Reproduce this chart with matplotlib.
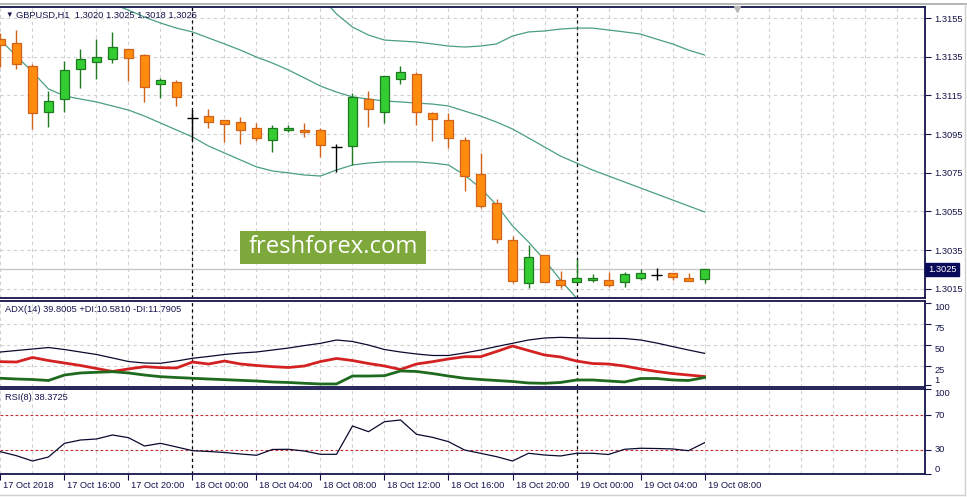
import matplotlib
matplotlib.use("Agg")
import matplotlib.pyplot as plt
import matplotlib.transforms as mtransforms
from matplotlib.lines import Line2D
from matplotlib.patches import Rectangle

# GBPUSD H1, 17 Oct 12:00 .. 19 Oct 08:00 (one bar per hour)
opens = [1.31440, 1.31419, 1.31302, 1.31066, 1.31130, 1.31288, 1.31324, 1.31336, 1.31388, 1.31359,
         1.31207, 1.31219, 1.31031, 1.31043, 1.31021, 1.31011, 1.30980, 1.30919, 1.30971, 1.30972,
         1.30971, 1.30883, 1.30890, 1.31130, 1.31066, 1.31236, 1.31260, 1.31057, 1.31023, 1.30919,
         1.30743, 1.30592, 1.30402, 1.30181, 1.30323, 1.30195, 1.30184, 1.30194, 1.30195, 1.30184,
         1.30207, 1.30221, 1.30233, 1.30207, 1.30200]
highs = [1.31472, 1.31488, 1.31312, 1.31173, 1.31328, 1.31390, 1.31441, 1.31478, 1.31390, 1.31362,
         1.31238, 1.31229, 1.31074, 1.31079, 1.31021, 1.31040, 1.31009, 1.30997, 1.30997, 1.31009,
         1.30980, 1.30898, 1.31164, 1.31174, 1.31249, 1.31302, 1.31272, 1.31066, 1.31057, 1.30936,
         1.30854, 1.30614, 1.30423, 1.30376, 1.30323, 1.30244, 1.30304, 1.30226, 1.30237, 1.30237,
         1.30254, 1.30256, 1.30233, 1.30233, 1.30250]
lows = [1.31297, 1.31286, 1.30976, 1.30986, 1.31066, 1.31190, 1.31235, 1.31319, 1.31224, 1.31117,
        1.31138, 1.31095, 1.30919, 1.30980, 1.30910, 1.30898, 1.30916, 1.30857, 1.30959, 1.30936,
        1.30831, 1.30754, 1.30790, 1.30988, 1.31009, 1.31207, 1.30997, 1.30916, 1.30879, 1.30657,
        1.30569, 1.30388, 1.30181, 1.30153, 1.30184, 1.30153, 1.30184, 1.30184, 1.30161, 1.30161,
        1.30194, 1.30194, 1.30194, 1.30192, 1.30180]
closes = [1.31410, 1.31311, 1.31059, 1.31121, 1.31281, 1.31336, 1.31347, 1.31399, 1.31345, 1.31195,
          1.31229, 1.31140, 1.31031, 1.31012, 1.31000, 1.30971, 1.30930, 1.30980, 1.30983, 1.30959,
          1.30892, 1.30883, 1.31143, 1.31078, 1.31249, 1.31269, 1.31066, 1.31029, 1.30928, 1.30733,
          1.30580, 1.30409, 1.30192, 1.30313, 1.30184, 1.30171, 1.30204, 1.30204, 1.30171, 1.30226,
          1.30233, 1.30221, 1.30213, 1.30192, 1.30250]

# Bollinger bands
bb_upper = [1.32315, 1.32325, 1.32336, 1.32351, 1.32325, 1.32258, 1.32201, 1.32150, 1.32108, 1.32067,
            1.32041, 1.32026, 1.32020, 1.32005, 1.31979, 1.31953, 1.31917, 1.31876, 1.31814, 1.31741,
            1.31664, 1.31571, 1.31503, 1.31462, 1.31436, 1.31431, 1.31426, 1.31416, 1.31405, 1.31400,
            1.31405, 1.31416, 1.31457, 1.31478, 1.31483, 1.31493, 1.31498, 1.31498, 1.31488, 1.31478,
            1.31467, 1.31441, 1.31416, 1.31384, 1.31359]
bb_mid = [1.31876, 1.31839, 1.31803, 1.31767, 1.31736, 1.31695, 1.31659, 1.31622, 1.31591, 1.31555,
          1.31524, 1.31498, 1.31478, 1.31447, 1.31416, 1.31384, 1.31348, 1.31317, 1.31281, 1.31240,
          1.31198, 1.31167, 1.31142, 1.31131, 1.31121, 1.31116, 1.31110, 1.31105, 1.31095, 1.31069,
          1.31043, 1.31012, 1.30976, 1.30930, 1.30883, 1.30836, 1.30800, 1.30764, 1.30733, 1.30702,
          1.30671, 1.30640, 1.30609, 1.30578, 1.30547]
bb_lower = [1.31436, 1.31353, 1.31271, 1.31183, 1.31147, 1.31131, 1.31116, 1.31095, 1.31074, 1.31043,
            1.31007, 1.30971, 1.30935, 1.30888, 1.30852, 1.30816, 1.30780, 1.30759, 1.30749, 1.30738,
            1.30733, 1.30764, 1.30790, 1.30800, 1.30806, 1.30806, 1.30806, 1.30800, 1.30790, 1.30738,
            1.30671, 1.30583, 1.30475, 1.30392, 1.30299, 1.30195, 1.30102, 1.30030, 1.29978, 1.29927,
            1.29875, 1.29839, 1.29803, 1.29771, 1.29735]

# ADX(14)
adx = [41.4, 43.2, 45.0, 46.8, 44.4, 41.4, 38.4, 34.2, 29.9, 28.1,
       27.8, 30.5, 33.8, 36.0, 38.4, 40.2, 41.4, 43.8, 46.2, 49.2,
       51.9, 55.9, 54.1, 49.8, 44.4, 41.4, 39.0, 37.2, 37.2, 40.2,
       43.8, 48.0, 51.9, 55.9, 58.3, 59.1, 58.5, 57.9, 57.9, 57.7,
       55.9, 52.3, 48.0, 43.8, 39.8]
plus_di = [9.7, 8.8, 8.2, 7.0, 13.6, 16.1, 16.9, 17.6, 16.1, 13.6,
           11.6, 10.6, 9.7, 8.8, 8.0, 7.2, 6.4, 5.2, 4.6, 3.6,
           2.8, 2.8, 12.4, 12.4, 12.8, 18.5, 17.9, 15.4, 12.4, 9.7,
           8.2, 7.0, 5.8, 4.0, 3.6, 4.6, 7.6, 7.6, 6.4, 5.2,
           9.4, 9.4, 7.6, 7.0, 10.6]
minus_di = [29.7, 29.3, 34.8, 31.1, 28.1, 25.1, 21.5, 17.9, 20.9, 23.7,
            22.5, 22.1, 29.3, 26.9, 30.5, 26.9, 25.1, 23.7, 22.7, 24.5,
            29.9, 33.6, 31.1, 27.5, 24.5, 20.3, 26.9, 29.7, 33.0, 35.7,
            35.7, 42.0, 48.6, 43.2, 37.8, 35.4, 30.5, 27.5, 26.9, 24.5,
            20.9, 17.9, 15.4, 13.6, 11.8]

# RSI(8)
rsi = [28.0, 23.4, 17.3, 21.9, 37.7, 41.5, 42.7, 47.3, 44.2, 34.6,
       37.7, 33.5, 29.2, 28.3, 27.1, 25.4, 23.9, 30.6, 30.8, 28.8,
       25.0, 25.0, 57.7, 51.1, 62.6, 64.6, 48.1, 44.6, 39.6, 30.0,
       26.2, 22.3, 17.3, 26.2, 24.2, 23.1, 26.2, 26.2, 24.8, 30.8,
       32.0, 31.7, 31.2, 29.2, 38.4]

price_ticks = [1.3155, 1.3135, 1.3115, 1.3095, 1.3075, 1.3055, 1.3035, 1.3015]
time_labels = ["17 Oct 2018", "17 Oct 16:00", "17 Oct 20:00", "18 Oct 00:00", "18 Oct 04:00",
               "18 Oct 08:00", "18 Oct 12:00", "18 Oct 16:00", "18 Oct 20:00", "19 Oct 00:00",
               "19 Oct 04:00", "19 Oct 08:00"]
day_breaks = [12, 36]

W, H = 967, 497
NAVY = "#14144c"
GRID = "#d0d0d0"
FS = 6.7
plt.rcParams["font.family"] = ["Liberation Sans", "DejaVu Sans"]


def fbox(x0, y0, x1, y1):
    return [x0 / W, 1 - y1 / H, (x1 - x0) / W, (y1 - y0) / H]


fig = plt.figure(figsize=(W / 100, H / 100), dpi=100)
ax1 = fig.add_axes(fbox(0, 7, 925, 298))
ax2 = fig.add_axes(fbox(0, 301, 925, 386.7))
ax3 = fig.add_axes(fbox(0, 389.3, 925, 474))

n = len(opens)
xs = list(range(n))
xlim = (-0.03, 57.78)

for ax in (ax1, ax2, ax3):
    ax.set_xlim(*xlim)
    ax.spines["left"].set_visible(False)
    for s in ("top", "right", "bottom"):
        ax.spines[s].set_color(NAVY)
        ax.spines[s].set_linewidth(1.3)
    ax.yaxis.tick_right()
    ax.tick_params(axis="y", direction="out", length=4, width=0.8, colors=NAVY,
                   labelsize=FS, pad=3, labelcolor=NAVY)
    # vertical grid every two bars
    for gx in range(0, 58, 2):
        ax.axvline(gx, color=GRID, lw=0.8, ls=(0, (3, 3)), zorder=0)
    for d in day_breaks:
        ax.axvline(d, color="black", lw=0.9, ls=(0, (2.5, 2.5)), zorder=1)

ax1.set_xticks([])
ax2.set_xticks([])

# ---- price panel
ax1.set_ylim(1.30102, 1.31607)
for p in price_ticks:
    ax1.axhline(p, color=GRID, lw=0.8, ls=(0, (3, 3)), zorder=0)
ax1.axhline(closes[-1], color="#c8c8c8", lw=1.0, zorder=0)
ax1.set_yticks(price_ticks)
ax1.set_yticklabels([f"{p:.4f}" for p in price_ticks])

for ln in (bb_upper, bb_mid, bb_lower):
    ax1.plot(xs, ln, color="#4a9f82", lw=0.9, zorder=2)

bw = 0.62
for i in xs:
    o, h, l, c = opens[i], highs[i], lows[i], closes[i]
    if c > o:
        fill, edge = "#33cc33", "#1f7a1f"
    elif c < o:
        fill, edge = "#ff8c0f", "#d0621a"
    else:
        fill, edge = "black", "black"
    ax1.vlines(i, l, h, color=edge, lw=1.0, zorder=3)
    if c == o:
        ax1.hlines(c, i - bw / 2 - 0.02, i + bw / 2 + 0.02, color="black", lw=1.0, zorder=4)
    else:
        ax1.bar(i, abs(c - o), bottom=min(o, c), width=bw, color=fill,
                edgecolor=edge, linewidth=0.9, zorder=4)

# current price box
ax1.text(1.003, closes[-1], f"{closes[-1]:.4f}", transform=ax1.get_yaxis_transform(),
         ha="left", va="center", fontsize=FS, color="white",
         bbox=dict(boxstyle="square,pad=0.25", fc="#0a0a5a", ec="#0a0a5a"))

# ---- ADX panel
ax2.set_ylim(-0.5, 103)
for g in (25, 50, 75):
    ax2.axhline(g, color=GRID, lw=0.8, ls=(0, (3, 3)), zorder=0)
ax2.plot(xs, adx, color="#0a0a30", lw=0.9, zorder=3)
ax2.plot(xs, minus_di, color="#d42222", lw=2.0, zorder=3)
ax2.plot(xs, plus_di, color="#1e6a1e", lw=2.0, zorder=3)
ax2.set_yticks([100, 75, 50, 25, 1])
ax2.set_yticklabels(["100", "75", "50", "25", "1"])
for lab, va in zip(ax2.get_yticklabels(), ["top", "top", "top", "top", "bottom"]):
    lab.set_verticalalignment(va)

# ---- RSI panel
ax3.set_ylim(2.3, 100)
ax3.axhline(70, color="#c03030", lw=0.8, ls=(0, (2.5, 2)), zorder=1)
ax3.axhline(30, color="#c03030", lw=0.8, ls=(0, (2.5, 2)), zorder=1)
ax3.plot(xs, rsi, color="#0a0a30", lw=0.9, zorder=3)
ax3.set_yticks([100, 70, 30, 2.3])
ax3.set_yticklabels(["100", "70", "30", "0"])
for lab, va in zip(ax3.get_yticklabels(), ["top", "center", "center", "bottom"]):
    lab.set_verticalalignment(va)

ax3.set_xticks(list(range(0, n, 4)))
ax3.set_xticklabels(time_labels)
ax3.tick_params(axis="x", direction="out", length=4, width=0.8, colors=NAVY,
                labelsize=FS, pad=1, labelcolor=NAVY)
shift = mtransforms.ScaledTranslation(3 / 100, 0, fig.dpi_scale_trans)
for lab in ax3.get_xticklabels():
    lab.set_horizontalalignment("left")
    lab.set_transform(lab.get_transform() + shift)

# ---- header texts
fig.text(5 / W, 1 - 15 / H, "▼", fontsize=5.5, color=NAVY, va="center", ha="left")
fig.text(16 / W, 1 - 15 / H, "GBPUSD,H1  1.3020 1.3025 1.3018 1.3025", fontsize=FS,
         color=NAVY, va="center", ha="left")
fig.text(5 / W, 1 - 310 / H, "ADX(14) 39.8005 +DI:10.5810 -DI:11.7905", fontsize=FS,
         color=NAVY, va="center", ha="left")
fig.text(5 / W, 1 - 398 / H, "RSI(8) 38.3725", fontsize=FS,
         color=NAVY, va="center", ha="left")

# watermark
fig.add_artist(Rectangle((240 / W, 1 - 264 / H), 186 / W, 33 / H, transform=fig.transFigure,
                         fc="#7ea83b", ec="none", zorder=5))
fig.text(333 / W, 1 - 247 / H, "freshforex.com", fontsize=17.2, color="white",
         family="Open Sans", ha="center", va="center", zorder=6)

# window edges
fig.add_artist(Line2D([0, 1], [1 - 3.5 / H] * 2, color="#a8a8a8", lw=1.2, transform=fig.transFigure))
fig.add_artist(Line2D([965 / W] * 2, [1 - 495 / H, 1 - 4 / H], color="#d0d0d0", lw=1.0,
                      transform=fig.transFigure))
fig.add_artist(Line2D([0, 965 / W], [1 - 495 / H] * 2, color="#d0d0d0", lw=1.0,
                      transform=fig.transFigure))
fig.add_artist(Line2D([737 / W], [1 - 9 / H], marker="v", color="#b8b8b8", markersize=5,
                      transform=fig.transFigure))

fig.savefig("out.png", dpi=100)
